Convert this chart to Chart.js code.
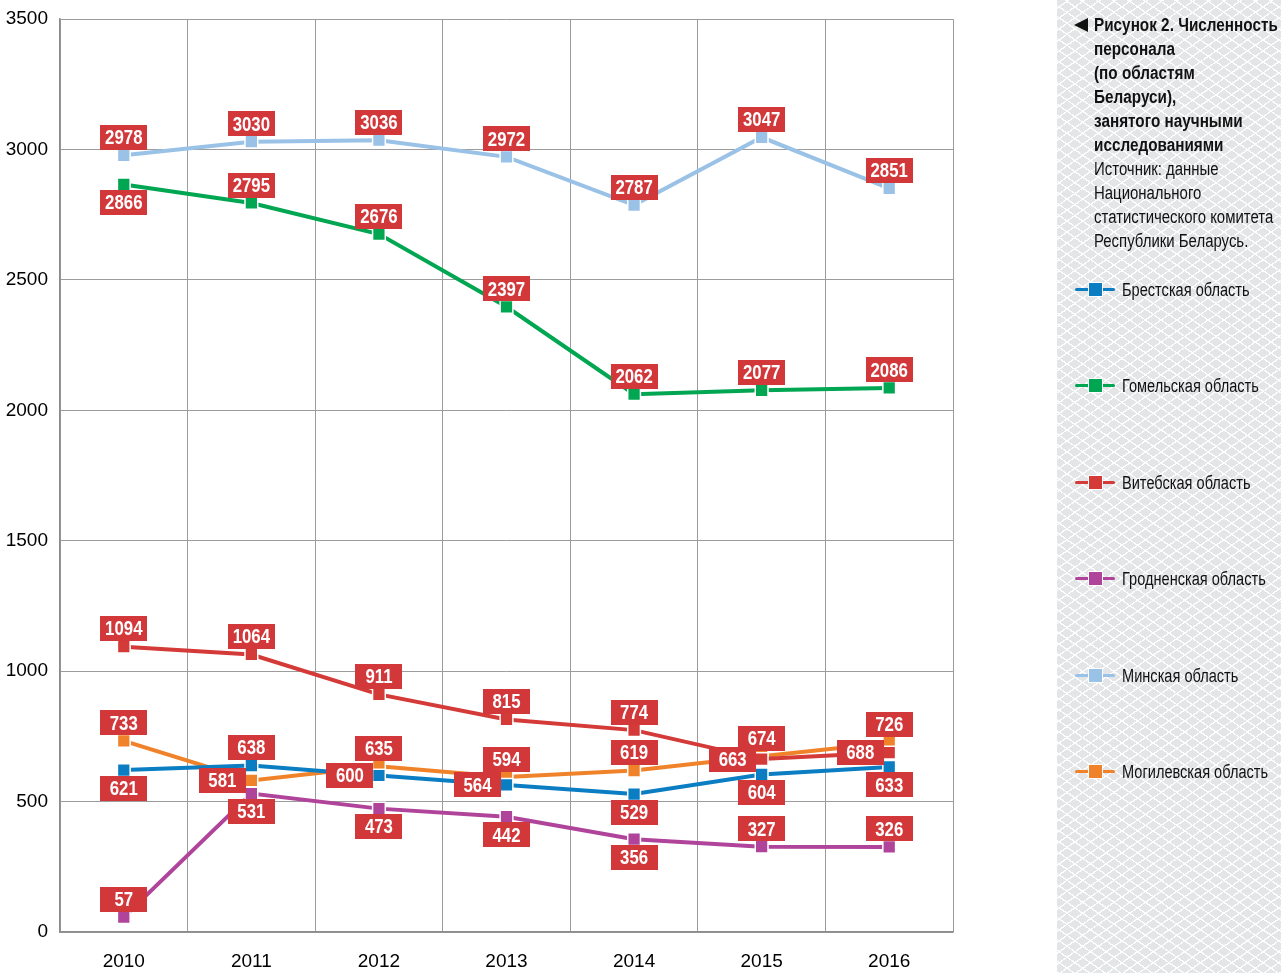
<!DOCTYPE html>
<html>
<head>
<meta charset="utf-8">
<script src="https://cdn.jsdelivr.net/npm/chart.js@4.4.1/dist/chart.umd.min.js"></script>
<style>
  html, body { margin:0; padding:0; background:#fff; }
  #wrap { position:relative; width:1281px; height:973px; overflow:hidden; }
  #panel {
    position:absolute; left:1057px; top:0; width:224px; height:973px;
    background-color:#e4e5e7;
    background-image:
      repeating-linear-gradient(35deg, rgba(255,255,255,0.95) 0px, rgba(255,255,255,0.95) 1.3px, transparent 1.3px, transparent 9px),
      repeating-linear-gradient(-35deg, rgba(255,255,255,0.95) 0px, rgba(255,255,255,0.95) 1.3px, transparent 1.3px, transparent 9px);
  }
  #chartBox { position:absolute; left:0; top:0; width:1281px; height:973px; }
  #title {
    position:absolute; left:1094px; top:13px; white-space:nowrap;
    font-family:"Liberation Sans",Arial,sans-serif;
    font-size:18px; line-height:24px; color:#111;
  }
  #title div { transform-origin:0 0; height:24px; }
  #title .b { font-weight:bold; transform:scaleX(0.85); }
  #title .n { transform:scaleX(0.83); }
  #tri { position:absolute; left:1074px; top:18px; width:0; height:0;
    border-top:7px solid transparent; border-bottom:7px solid transparent; border-right:14px solid #111; }
  .leg { position:absolute; left:1075px; height:24px; }
  .leg .ln { position:absolute; left:0; top:10px; width:40px; height:3px; border-radius:2px; }
  .leg .sq { position:absolute; left:13px; top:4px; width:13px; height:13px; border:1px solid #fff; }
  .leg .tx { position:absolute; left:47px; top:0; line-height:24px; white-space:nowrap;
    font-family:"Liberation Sans",Arial,sans-serif; font-size:18px; color:#111;
    transform:scaleX(0.81); transform-origin:0 0; }
</style>
</head>
<body>
<div id="wrap">
  <div id="panel"></div>
  <div id="chartBox"><canvas id="c" width="1281" height="973"></canvas></div>
  <div id="tri"></div>
  <div id="title"></div>
  <div id="legend"></div>
</div>
<script>
// ---- data ----
const years = ['2010','2011','2012','2013','2014','2015','2016'];
const seriesNames = ['Брестская область','Гомельская область','Витебская область','Гродненская область','Минская область','Могилевская область'];
const brest   = [621, 638, 600, 564, 529, 604, 633];
const gomel   = [2866, 2795, 2676, 2397, 2062, 2077, 2086];
const vitebsk = [1094, 1064, 911, 815, 774, 663, 688];
const grodno  = [57, 531, 473, 442, 356, 327, 326];
const minsk   = [2978, 3030, 3036, 2972, 2787, 3047, 2851];
const mogilev = [733, 581, 635, 594, 619, 674, 726];
const yTicks  = [0, 500, 1000, 1500, 2000, 2500, 3000, 3500];
const titleBold = ['Рисунок 2. Численность','персонала','(по областям','Беларуси),','занятого научными','исследованиями'];
const titleNormal = ['Источник: данные','Национального','статистического комитета','Республики Беларусь.'];

// ---- styles ----
const colors = ['#0b7dc3','#00a651','#d43a37','#b0449b','#9ac2e7','#f0832a'];
const labelPlacement = [
  ['b','t','l','l','b','b','b'],
  ['b','t','t','t','t','t','t'],
  ['t','t','t','t','t','l','l'],
  ['t','b','b','b','b','t','t'],
  ['t','t','t','t','t','t','t'],
  ['t','l','t','t','t','t','t']
];
const FONT = '"Liberation Sans",Arial,sans-serif';

// title & legend
document.getElementById('title').innerHTML =
  titleBold.map(s => '<div class="b">' + s + '</div>').join('') +
  titleNormal.map(s => '<div class="n">' + s + '</div>').join('');
const legYs = [290, 386, 483, 579, 676, 772];
document.getElementById('legend').innerHTML = seriesNames.map((n, i) =>
  '<div class="leg" style="top:' + (legYs[i] - 12) + 'px">' +
  '<div class="ln" style="background:' + colors[i] + '"></div>' +
  '<div class="sq" style="background:' + colors[i] + '"></div>' +
  '<div class="tx">' + n + '</div></div>').join('');

const allData = [brest, gomel, vitebsk, grodno, minsk, mogilev];

const labelPlugin = {
  id: 'boxLabels',
  afterDatasetsDraw(chart) {
    const ctx = chart.ctx;
    const W = 47, H = 25;
    chart.data.datasets.forEach((ds, di) => {
      const meta = chart.getDatasetMeta(di);
      meta.data.forEach((pt, i) => {
        const p = labelPlacement[di][i];
        let cx = pt.x, cy = pt.y;
        if (p === 't') cy -= 18;
        else if (p === 'b') cy += 18;
        else if (p === 'l') cx -= 29;
        ctx.save();
        ctx.fillStyle = '#d2373a';
        ctx.fillRect(Math.round(cx - W / 2), Math.round(cy - H / 2), W, H);
        ctx.translate(cx, cy + 1);
        ctx.scale(0.8, 1);
        ctx.fillStyle = '#fff';
        ctx.font = 'bold 21px ' + FONT;
        ctx.textAlign = 'center';
        ctx.textBaseline = 'middle';
        ctx.fillText(String(ds.data[i]), 0, 0);
        ctx.restore();
      });
    });
  }
};

new Chart(document.getElementById('c'), {
  type: 'line',
  data: {
    labels: years,
    datasets: allData.map((d, i) => ({
      label: seriesNames[i],
      data: d,
      borderColor: colors[i],
      backgroundColor: colors[i],
      borderWidth: 4,
      pointStyle: 'rect',
      pointRadius: 9,
      pointBackgroundColor: colors[i],
      pointBorderColor: '#ffffff',
      pointBorderWidth: 1.5,
      tension: 0,
      fill: false
    }))
  },
  options: {
    responsive: false,
    animation: false,
    devicePixelRatio: 1,
    layout: { padding: { left: 0, top: 18, right: 328, bottom: 0 } },
    plugins: { legend: { display: false }, tooltip: { enabled: false } },
    scales: {
      x: {
        offset: true,
        grid: { offset: true, color: '#9c9c9c', lineWidth: 1, drawTicks: false },
        border: { color: '#8c8c8c', width: 1.5 },
        ticks: { color: '#000', font: { family: FONT, size: 19 }, padding: 18 },
        afterFit(s) { s.height = 41; }
      },
      y: {
        min: 0, max: 3500,
        afterBuildTicks(s) { s.ticks = yTicks.map(v => ({ value: v })); },
        grid: { color: '#9c9c9c', lineWidth: 1, drawTicks: false },
        border: { color: '#8c8c8c', width: 1.5 },
        ticks: { color: '#000', font: { family: FONT, size: 19, lineHeight: 0.75 }, padding: 12,
                 callback: v => String(v) },
        afterFit(s) { s.width = 60; }
      }
    }
  },
  plugins: [labelPlugin]
});
</script>
</body>
</html>
